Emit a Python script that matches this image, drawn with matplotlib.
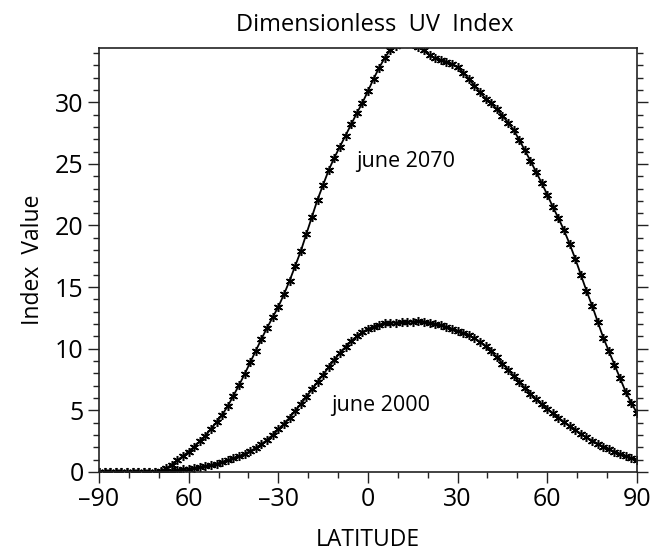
import numpy as np
import matplotlib
matplotlib.use('Agg')
import matplotlib.pyplot as plt
from matplotlib.ticker import MultipleLocator, FixedLocator

plt.rcParams['font.family'] = ['Open Sans', 'DejaVu Sans']

# latitude grid, 1.875 degree spacing from pole to pole
lat = np.linspace(-90, 90, 97)

uv_2000 = [
    0.0, 0.0, 0.0, 0.0, 0.0, 0.0, 0.0, 0.0, 0.0, 0.0, 0.0,
    0.03, 0.07, 0.11, 0.16, 0.21, 0.26, 0.32, 0.39, 0.47, 0.56,
    0.67, 0.8, 0.95, 1.1, 1.27, 1.47, 1.7, 1.95, 2.25, 2.6,
    3.0, 3.45, 3.9, 4.4, 4.95, 5.5, 6.1, 6.7, 7.3, 7.9,
    8.5, 9.1, 9.65, 10.15, 10.6, 11.0, 11.35, 11.6, 11.8, 11.95,
    12.05, 12.1, 12.12, 12.15, 12.18, 12.2, 12.22, 12.2, 12.12, 12.0,
    11.9, 11.78, 11.6, 11.45, 11.28, 11.1, 10.85, 10.55, 10.2, 9.8,
    9.3, 8.8, 8.3, 7.8, 7.3, 6.8, 6.35, 5.9, 5.5, 5.1,
    4.75, 4.4, 4.05, 3.7, 3.4, 3.1, 2.8, 2.55, 2.3, 2.05,
    1.85, 1.65, 1.45, 1.28, 1.12, 1.0,
]

uv_2070 = [
    0.0, 0.0, 0.0, 0.0, 0.0, 0.0, 0.0, 0.0, 0.0, 0.0, 0.0,
    0.05, 0.3, 0.6, 0.95, 1.3, 1.65, 2.05, 2.5, 2.95, 3.5,
    4.05, 4.65, 5.35, 6.2, 7.05, 7.95, 8.9, 9.85, 10.8, 11.7,
    12.55, 13.4, 14.4, 15.5, 16.7, 17.9, 19.3, 20.7, 22.1, 23.3,
    24.5, 25.5, 26.4, 27.3, 28.2, 29.1, 29.95, 30.9, 31.9, 32.8,
    33.6, 34.25, 34.6, 34.8, 34.8, 34.7, 34.5, 34.2, 33.8, 33.55,
    33.4, 33.3, 33.1, 32.85, 32.4, 31.9, 31.35, 30.8, 30.3, 29.9,
    29.45, 28.9, 28.35, 27.75, 26.95, 26.1, 25.25, 24.35, 23.45, 22.5,
    21.5, 20.6, 19.6, 18.5, 17.3, 16.0, 14.7, 13.5, 12.2, 10.9,
    9.8, 8.7, 7.6, 6.5, 5.6, 4.8,
]

xtick_vals = [-90, -60, -30, 0, 30, 60, 90]
xtick_labels = ['\u201390', '60', '\u201330', '0', '30', '60', '90']

fig = plt.figure(figsize=(6.6, 5.52), dpi=100)
ax = fig.add_axes([0.15, 0.145, 0.815, 0.768])

star = (6, 2, 0)
for vals in (uv_2070, uv_2000):
    ax.plot(lat, vals, color='black', lw=1.3, marker=star, ms=6.5, mew=1.1)

ax.text(12.5, 25.2, 'june 2070', ha='center', va='center', fontsize=15.5)
ax.text(4.3, 5.4, 'june 2000', ha='center', va='center', fontsize=15.5)

ax.set_xlim(-90, 90)
ax.set_ylim(0, 34.4)

ax.xaxis.set_major_locator(FixedLocator(xtick_vals))
ax.set_xticklabels(xtick_labels)
ax.xaxis.set_minor_locator(MultipleLocator(10))
ax.yaxis.set_major_locator(MultipleLocator(5))
ax.yaxis.set_minor_locator(MultipleLocator(1))

ax.tick_params(which='both', direction='out', top=False, right=True,
               width=1.0, color='#222222')
ax.tick_params(which='major', length=8, labelsize=18, pad=3)
ax.tick_params(which='minor', length=4)
for side in ax.spines.values():
    side.set_linewidth(1.2)
    side.set_color('#222222')

ax.set_title('Dimensionless  UV  Index', fontsize=17, pad=12, x=0.513)
ax.set_xlabel('LATITUDE', fontsize=16.5, labelpad=11)
ax.set_ylabel('Index  Value', fontsize=16.5, labelpad=7)

fig.savefig('out.png', dpi=100)
